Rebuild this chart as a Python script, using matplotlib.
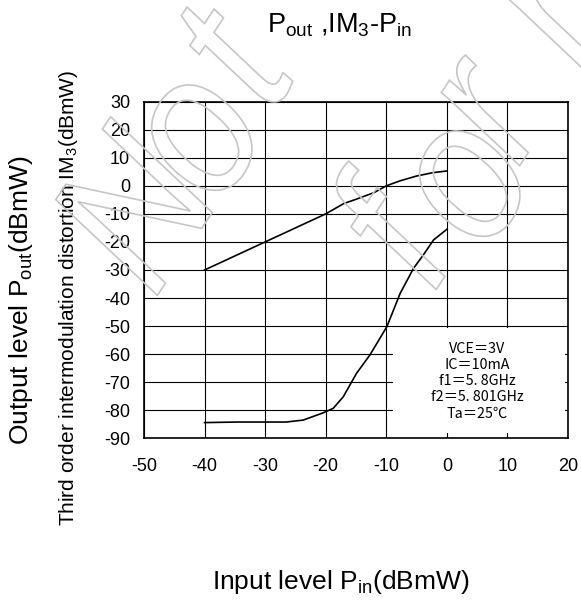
import matplotlib
matplotlib.use('Agg')
import matplotlib.pyplot as plt
from matplotlib.patches import Rectangle, PathPatch
from matplotlib.textpath import TextPath
from matplotlib.font_manager import FontProperties
from matplotlib.transforms import Affine2D, IdentityTransform

plt.rcParams['font.family'] = ['Liberation Sans', 'Noto Sans CJK JP']
plt.rcParams['axes.unicode_minus'] = False

# output power curve
pin_out = [-40, -30, -20, -17, -15, -12, -10, -7.7, -5, -2.3, 0]
pout = [-30, -20, -10, -6.3, -4.8, -2.4, 0, 1.8, 3.5, 4.7, 5.3]

# third order intermodulation curve
pin_im3 = [-40, -34.7, -26.5, -23.7, -20.4, -18.75, -17.1, -14.9, -12.7, -9.9, -7.7, -5.5, -3.9, -2.2, 0]
im3 = [-84.4, -84.2, -84.2, -83.5, -80.9, -79.3, -75.2, -66.8, -60.3, -50.2, -38.3, -29.4, -24.7, -19.3, -15.5]

xticks = [-50, -40, -30, -20, -10, 0, 10, 20]
yticks = [30, 20, 10, 0, -10, -20, -30, -40, -50, -60, -70, -80, -90]

cond_lines = ['VCE＝3V', 'IC＝10mA', 'f1＝5. 8GHz', 'f2＝5. 801GHz', 'Ta＝25℃']

fig = plt.figure(figsize=(5.81, 6.01), dpi=100)
ax = fig.add_axes([0.2478, 0.2707, 0.7298, 0.5601])

ax.set_xlim(-50, 20)
ax.set_ylim(-90, 30)

# grid drawn by hand so the condition box can cover part of it
ax.vlines(xticks, -90, 30, colors='black', lw=0.8, zorder=1)
ax.hlines(yticks, -50, 20, colors='black', lw=0.8, zorder=1)
ax.add_patch(Rectangle((-8.9, -88.1), 28.4, 37.6, facecolor='white', edgecolor='none', zorder=1.5))

ax.plot(pin_out, pout, color='black', lw=1.2, zorder=3)
ax.plot(pin_im3, im3, color='black', lw=1.2, zorder=3)

ax.text(5, -69.6, '\n'.join(cond_lines), ha='center', va='center', multialignment='center',
        fontsize=10.3, linespacing=1.2, family=['Noto Sans CJK JP', 'DejaVu Sans'], zorder=4)

ax.set_xticks(xticks)
ax.set_yticks(yticks)
ax.tick_params(axis='both', length=0, labelsize=13)
ax.tick_params(axis='x', pad=14)
ax.tick_params(axis='y', pad=10)
for s in ax.spines.values():
    s.set_linewidth(1.2)
    s.set_zorder(5)

fig.text(340 / 581, 1 - 25 / 601, r'P$_\mathregular{out}$ ,IM$_\mathregular{3}$-P$_\mathregular{in}$',
         ha='center', va='center', fontsize=19.5)
fig.text(341 / 581, 1 - 582 / 601, r'Input level P$_\mathregular{in}$(dBmW)',
         ha='center', va='center', fontsize=19)
fig.text(21 / 581, 1 - 300 / 601, r'Output level P$_\mathregular{out}$(dBmW)',
         ha='center', va='center', rotation=90, fontsize=19)
fig.text(69 / 581, 1 - 298 / 601, r'Third order intermodulation distortion IM$_\mathregular{3}$(dBmW)',
         ha='center', va='center', rotation=90, fontsize=15)

# outlined italic watermark, one glyph at a time (centre in pixels from top-left)
wm_glyphs = [('N', 134, 206), ('o', 202, 138), ('t', 236, 52),
             ('f', 392, 225), ('o', 470, 184), ('r', 492, 110), ('n', 563, 3)]
wm_prop = FontProperties(family='Liberation Sans', style='italic')

def outline_glyph(ch, cx, cy, height=200, width=178, angle=56.5):
    tp = TextPath((0, 0), ch, size=height, prop=wm_prop)
    ext = tp.get_extents()
    tr = (Affine2D().translate(-(ext.x0 + ext.x1) / 2, -(ext.y0 + ext.y1) / 2)
          .scale(width / height, 1).rotate_deg(angle).translate(cx, 601 - cy))
    patch = PathPatch(tr.transform_path(tp), facecolor='none', edgecolor='#c6c6c6',
                      lw=1.2, transform=IdentityTransform(), zorder=10)
    fig.patches.append(patch)

for ch, cx, cy in wm_glyphs:
    outline_glyph(ch, cx, cy)

fig.savefig('out.png', dpi=100)
